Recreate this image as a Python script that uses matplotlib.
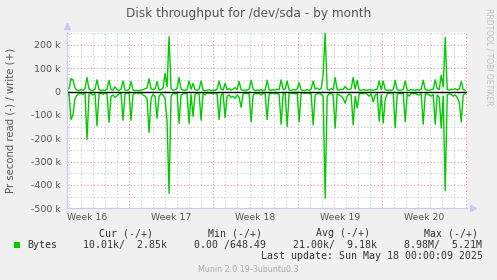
import matplotlib
matplotlib.use("Agg")
import matplotlib.pyplot as plt
import numpy as np

# munin month graph, one sample every 4 hours (values in k bytes/s)
step_days = 0.1661
write_k = [8, 12, 55, 50, 15, 6, 4, 8, 5, 12,
           60, 10, 5, 4, 10, 50, 8, 4, 6, 5,
           10, 48, 8, 5, 20, 8, 4, 10, 45, 6,
           4, 8, 43, 6, 4, 5, 3, 6, 8, 12,
           15, 55, 12, 8, 10, 43, 6, 8, 15, 77,
           20, 235, 12, 5, 8, 12, 60, 10, 6, 5,
           8, 45, 10, 35, 8, 5, 10, 45, 6, 4,
           5, 8, 4, 6, 5, 10, 45, 10, 6, 35,
           8, 12, 6, 10, 17, 8, 43, 8, 5, 6,
           5, 10, 48, 10, 4, 6, 5, 8, 4, 6,
           48, 6, 5, 8, 6, 10, 8, 50, 8, 10,
           45, 6, 5, 8, 6, 10, 38, 6, 4, 5,
           8, 5, 10, 45, 10, 15, 8, 12, 73, 248,
           10, 6, 12, 8, 60, 8, 6, 10, 8, 22,
           10, 8, 12, 60, 10, 48, 6, 5, 8, 6,
           5, 8, 6, 5, 8, 10, 45, 8, 45, 8,
           5, 6, 4, 8, 48, 8, 5, 6, 8, 45,
           6, 5, 8, 6, 5, 8, 6, 10, 48, 8,
           6, 5, 8, 10, 50, 12, 8, 70, 20, 231,
           8, 6, 10, 8, 12, 6, 10, 43, 8, 5]
read_k = [20, 10, 120, 100, 30, 15, 10, 8, 12, 6,
          205, 12, 8, 15, 10, 147, 10, 8, 12, 6,
          10, 132, 20, 15, 25, 18, 10, 8, 123, 10,
          6, 8, 123, 12, 8, 5, 10, 6, 15, 20,
          30, 175, 30, 12, 20, 115, 20, 10, 15, 30,
          125, 436, 20, 8, 10, 8, 137, 15, 10, 8,
          10, 137, 12, 107, 12, 8, 10, 123, 8, 15,
          6, 8, 6, 10, 8, 10, 120, 15, 8, 112,
          20, 15, 25, 20, 30, 15, 25, 68, 10, 8,
          8, 10, 130, 15, 8, 10, 8, 15, 8, 10,
          120, 10, 8, 6, 10, 8, 12, 140, 10, 8,
          150, 8, 6, 8, 10, 6, 130, 8, 6, 8,
          6, 8, 10, 143, 15, 10, 8, 12, 20, 457,
          20, 10, 8, 15, 157, 10, 15, 20, 30, 50,
          20, 10, 15, 143, 20, 70, 10, 8, 10, 6,
          12, 20, 10, 45, 15, 10, 127, 15, 135, 35,
          10, 8, 6, 8, 155, 12, 8, 10, 6, 130,
          10, 20, 8, 10, 8, 12, 15, 10, 140, 12,
          10, 15, 20, 12, 140, 15, 25, 157, 20, 425,
          15, 10, 12, 20, 15, 25, 45, 130, 15, 10]

weeks = ["Week 16", "Week 17", "Week 18", "Week 19", "Week 20"]
first_monday = 5.15  # days from left edge
span_days = 33.2

legend_heads = ["Cur (-/+)", "Min (-/+)", "Avg (-/+)", "Max (-/+)"]
legend_vals = ["10.01k/  2.85k", "0.00 /648.49", "21.00k/  9.18k", "8.98M/  5.21M"]

W, H = 497, 280
fig = plt.figure(figsize=(W / 100, H / 100), dpi=100)
fig.patch.set_facecolor("#f0f0f0")


def px(x, y):
    return x / W, 1 - y / H


ax = fig.add_axes([67 / W, (H - 208.3) / H, 400 / W, 176.6 / H])
ax.set_facecolor("white")

t = np.arange(len(write_k)) * step_days
w = np.array(write_k) * 1000
r = -np.array(read_k) * 1000

ax.set_xlim(0, span_days)
ax.set_ylim(-500000, 256000)

# grid: gray dotted every day / 50k, red dotted every week / 100k
days = first_monday % 1 + np.arange(34)
days = [d for i, d in enumerate(days) if i % 7 != 5 and d < span_days]
ax.set_xticks(np.arange(first_monday, span_days, 7))
ax.set_xticks(days, minor=True)
ax.set_yticks(np.arange(-500000, 250001, 100000))
ax.set_yticks(np.arange(-450000, 256000, 100000), minor=True)
ax.grid(which="minor", color="#c8c8c8", linestyle=(0, (1, 2)), linewidth=0.8)
ax.grid(which="major", color="#e89090", linestyle=(0, (1, 2)), linewidth=0.8)
ax.set_axisbelow(True)

ax.set_yticklabels(["0" if v == 0 else f"{int(v / 1000)} k" for v in ax.get_yticks()])
ax.tick_params(axis="y", which="both", length=0, pad=4.5, labelsize=6.8, labelcolor="#555555")
ax.tick_params(axis="x", which="both", length=0, labelbottom=False)

for i, name in enumerate(weeks):
    ax.text(first_monday - 3.5 + 7 * i, -0.052, name, transform=ax.get_xaxis_transform(),
            ha="center", va="center", fontsize=6.7, color="#555555")

for s in ax.spines.values():
    s.set_visible(False)
ax.spines["left"].set_visible(True)
ax.spines["bottom"].set_visible(True)
ax.spines["left"].set_color("#c8c8f0")
ax.spines["bottom"].set_color("#c8c8f0")
ax.plot([0], [1.03], marker="^", color="#c8c8f0", markersize=4, transform=ax.transAxes, clip_on=False)
ax.plot([1.015], [0], marker=">", color="#c8c8f0", markersize=4, transform=ax.transAxes, clip_on=False)

# data
ax.plot(t, w, color="#00cc00", linewidth=1)
ax.plot(t, r, color="#00cc00", linewidth=1)
ax.axhline(0, color="black", linewidth=1)

# texts
fig.text(*px(248.5, 13.5), "Disk throughput for /dev/sda - by month", ha="center", va="center",
         fontsize=8.7, color="#555555")
fig.text(*px(10.5, 120), "Pr second read (-) / write (+)", rotation=90, ha="center", va="center",
         fontsize=7.3, color="#555555")
fig.text(*px(488.5, 57), "RRDTOOL / TOBI OETIKER", rotation=270, ha="center", va="center",
         fontsize=5.5, color="#c0c0c0")

mono = dict(family="DejaVu Sans Mono", fontsize=7.1, color="#333333", va="center")
for xh, head in zip([99, 208, 316, 424], legend_heads):
    fig.text(*px(xh, 233.3), head, ha="left", **mono)
fig.patches.append(plt.Rectangle(px(14, 248), 6 / W, 6 / H, transform=fig.transFigure,
                                 facecolor="#00cc00", edgecolor="none"))
fig.text(*px(27, 244.7), "Bytes", ha="left", **mono)
for xv, val in zip([83, 194, 293, 404], legend_vals):
    fig.text(*px(xv, 244.7), val, ha="left", **mono)
fig.text(*px(483, 256.3), "Last update: Sun May 18 00:00:09 2025", ha="right", **mono)
fig.text(*px(248.5, 269.7), "Munin 2.0.19-3ubuntu0.3", ha="center", va="center",
         fontsize=5.8, color="#aaaaaa")

fig.savefig("out.png", dpi=100, facecolor=fig.get_facecolor())
